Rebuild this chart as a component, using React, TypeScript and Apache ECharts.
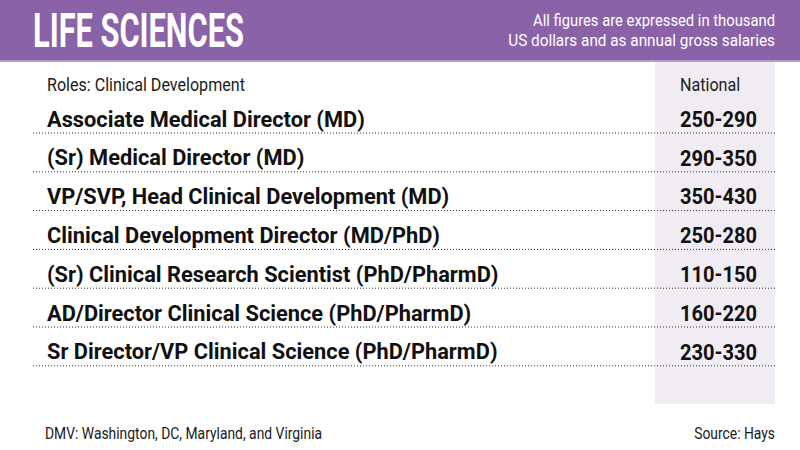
import React, { useEffect, useRef } from "react";
import * as echarts from "echarts";

const TITLE = "LIFE SCIENCES";
const SUBTITLE = [
  "All figures are expressed in thousand",
  "US dollars and as annual gross salaries",
];
const HEADER_ROLE = "Roles: Clinical Development";
const HEADER_COL = "National";
const ROLES = [
  "Associate Medical Director (MD)",
  "(Sr) Medical Director (MD)",
  "VP/SVP, Head Clinical Development (MD)",
  "Clinical Development Director (MD/PhD)",
  "(Sr) Clinical Research Scientist (PhD/PharmD)",
  "AD/Director Clinical Science (PhD/PharmD)",
  "Sr Director/VP Clinical Science (PhD/PharmD)",
];
const LOW = [250, 290, 350, 250, 110, 160, 230];
const HIGH = [290, 350, 430, 280, 150, 220, 330];
const FOOTNOTE = "DMV: Washington, DC, Maryland, and Virginia";
const SOURCE = "Source: Hays";

const FAMILY = 'Roboto, "Liberation Sans", sans-serif';

let ctx: CanvasRenderingContext2D | null = null;
function fit(text: string, weight: string | number, size: number, target: number) {
  if (!ctx) ctx = document.createElement("canvas").getContext("2d");
  if (!ctx) return 1;
  ctx.font = `${weight} ${size}px ${FAMILY}`;
  const w = ctx.measureText(text).width;
  return w > 0 ? target / w : 1;
}

export default function App() {
  const ref = useRef<HTMLDivElement>(null);
  useEffect(() => {
    if (!ref.current) return;
    const chart = echarts.init(ref.current, undefined, { renderer: "svg" });

    const rowSize = 22;
    const rowScale = fit(ROLES[0], "bold", rowSize, 318);
    const numScale = fit(`${LOW[0]}-${HIGH[0]}`, "bold", rowSize, 77);
    const titleScale = fit(TITLE, "bold", 49, 211);
    const sub1Scale = fit(SUBTITLE[0], "normal", 17, 242);
    const sub2Scale = fit(SUBTITLE[1], "normal", 17, 267);
    const headScale = fit(HEADER_ROLE, "normal", 19, 198);
    const footScale = fit(FOOTNOTE, "normal", 16, 277);

    const txt = (
      text: string,
      x: number,
      y: number,
      size: number,
      weight: string,
      color: string,
      scale: number,
      align: string = "left"
    ) => ({
      type: "text",
      x,
      y,
      scaleX: scale,
      z: 10,
      style: {
        text,
        x: 0,
        y: 0,
        fontSize: size,
        fontWeight: weight,
        fontFamily: FAMILY,
        fill: color,
        align,
        verticalAlign: "middle",
      },
    });

    chart.setOption({
      animation: false,
      backgroundColor: "#ffffff",
      grid: { left: 0, right: 0, top: 99.6, bottom: 78.8 },
      xAxis: { type: "value", min: 0, max: 1, show: false },
      yAxis: { type: "category", data: ROLES, inverse: true, show: false },
      graphic: [
        { type: "rect", shape: { x: 0, y: 0, width: 800, height: 60 }, style: { fill: "#8A62A8" }, z: 0 },
        { type: "rect", shape: { x: 0, y: 60, width: 800, height: 2 }, style: { fill: "#B69BC9" }, z: 0 },
        { type: "rect", shape: { x: 655, y: 62, width: 120, height: 342 }, style: { fill: "#F1ECF4" }, z: 0 },
        txt(TITLE, 33, 30, 49, "bold", "#ffffff", titleScale),
        txt(SUBTITLE[0], 775, 20, 17, "normal", "#ffffff", sub1Scale, "right"),
        txt(SUBTITLE[1], 775, 40, 17, "normal", "#ffffff", sub2Scale, "right"),
        txt(HEADER_ROLE, 47, 85, 19, "normal", "#1a1a1a", headScale),
        txt(HEADER_COL, 680, 85, 19, "normal", "#1a1a1a", headScale),
        txt(FOOTNOTE, 45, 434, 16, "normal", "#1a1a1a", footScale),
        txt(SOURCE, 775, 434, 16, "normal", "#1a1a1a", footScale, "right"),
      ],
      series: [
        {
          type: "custom",
          z: 5,
          data: ROLES.map((_, i) => [0, i]),
          renderItem: (params: any, api: any) => {
            const i = params.dataIndex;
            const y = api.coord([0, i])[1];
            return {
              type: "group",
              children: [
                {
                  type: "text",
                  x: 47,
                  y,
                  scaleX: rowScale,
                  style: {
                    text: ROLES[i],
                    fontSize: rowSize,
                    fontWeight: "bold",
                    fontFamily: FAMILY,
                    fill: "#111111",
                    align: "left",
                    verticalAlign: "middle",
                  },
                },
                {
                  type: "text",
                  x: 680,
                  y,
                  scaleX: numScale,
                  style: {
                    text: `${LOW[i]}-${HIGH[i]}`,
                    fontSize: rowSize,
                    fontWeight: "bold",
                    fontFamily: FAMILY,
                    fill: "#111111",
                    align: "left",
                    verticalAlign: "middle",
                  },
                },
                {
                  type: "line",
                  shape: { x1: 33, y1: y + 14, x2: 775, y2: y + 14 },
                  style: { stroke: "#333333", lineWidth: 1, lineDash: [1, 2] },
                },
              ],
            };
          },
        },
      ],
    });
    return () => chart.dispose();
  }, []);
  return (
    <div
      ref={ref}
      style={{ position: "fixed", left: 0, top: 0, width: 800, height: 450 }}
    />
  );
}
